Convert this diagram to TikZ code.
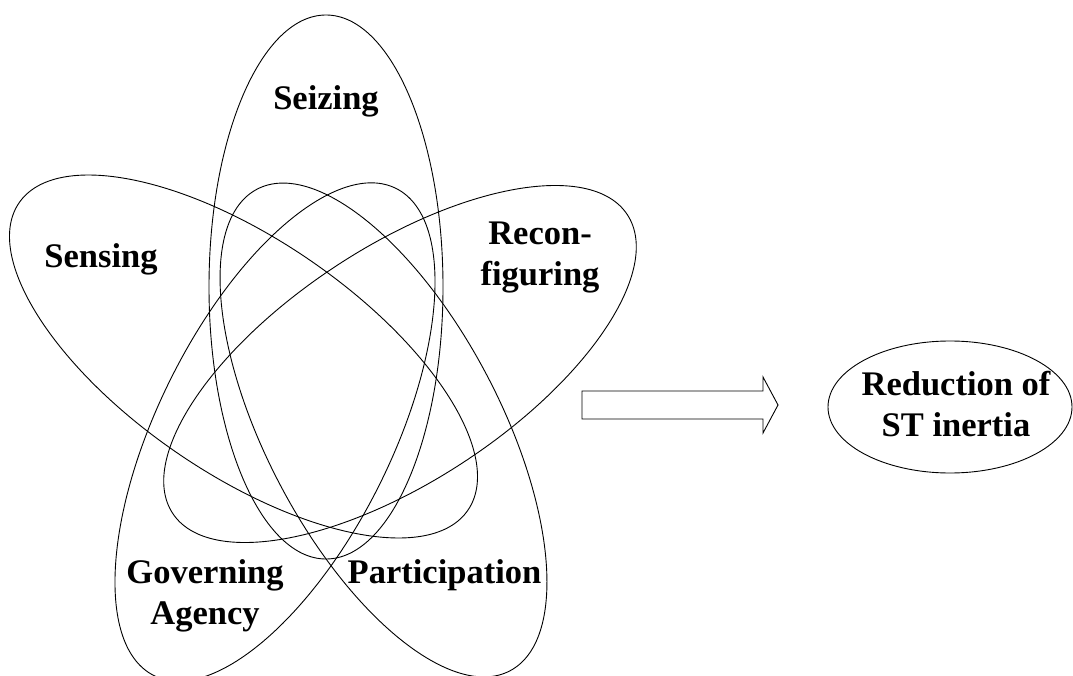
\documentclass[tikz,border=0pt]{standalone}
\usepackage{fontspec}
\setmainfont{Liberation Serif}
\usetikzlibrary{shapes.geometric,calc}
% two centred lines whose first baseline is the node's baseline
\newcommand\twoline[2]{\begin{tabular}[t]{@{}c@{}}#1\\#2\end{tabular}}
\begin{document}
\begin{tikzpicture}[x=1pt, y=-1pt,
  outline/.style={line width=0.9pt, draw=black},
  petal/.style={outline, ellipse, minimum width=234pt, minimum height=544pt,
    inner sep=0pt, outer sep=0pt},
  lbl/.style={font=\fontsize{34.5}{41}\selectfont\bfseries, inner sep=0pt,
    anchor=base, align=center}]
\useasboundingbox (0,0) rectangle (1073,676);
\clip (0,0) rectangle (1073,676);

% the five overlapping capabilities
\node[petal] (seizing) at (326,287) {};
\node[petal, rotate=55.6] (sensing) at (243.5,356.5) {};
\node[petal, rotate=-56.7] (reconf) at (400,364) {};
\node[petal, rotate=-26.4] (govern) at (275,432) {};
\node[petal, rotate=27.7] (partic) at (383.5,430) {};

\node[lbl] (tseizing) at (326,110) {Seizing};
\node[lbl] (tsensing) at (101,268) {Sensing};
\node[lbl] (treconf) at (540,245) {\twoline{Recon-}{figuring}};
\node[lbl] (tgovern) at (205,583) {\twoline{Governing}{Agency}};
\node[lbl] (tpartic) at (444.5,583) {Participation};

% outcome
\node[outline, ellipse, minimum width=244pt, minimum height=132pt,
  inner sep=0pt, outer sep=0pt] (reduct) at (950,407) {};
\node[lbl] (treduct) at (956,395) {\twoline{Reduction of}{ST inertia}};

% block arrow towards the outcome
\coordinate (tail) at (582,405);
\coordinate (tip) at (778,405);
\draw[outline, line join=miter]
  ($(tail)+(0,-14)$) -- (763,391) -- (763,377) -- (tip) -- (763,433)
  -- (763,419) -- ($(tail)+(0,14)$) -- cycle;
\end{tikzpicture}
\end{document}
